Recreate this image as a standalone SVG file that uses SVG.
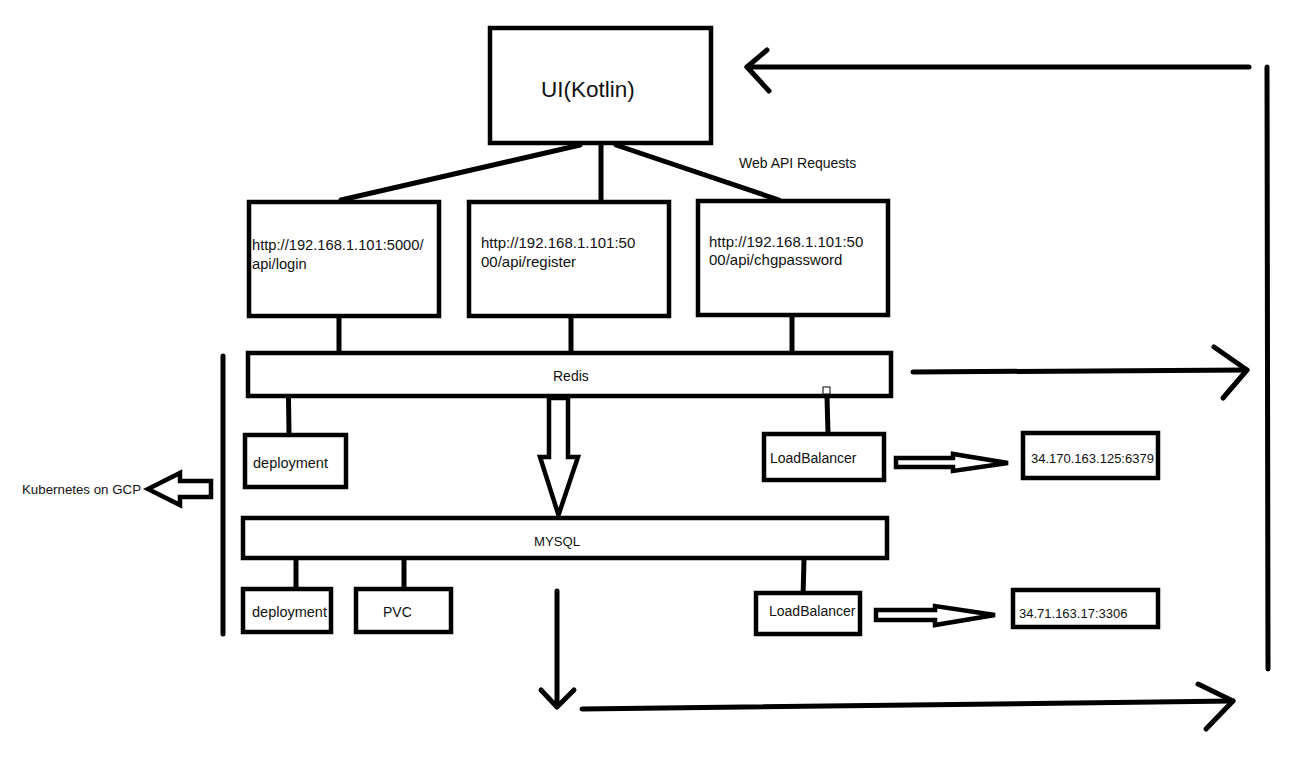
<svg xmlns="http://www.w3.org/2000/svg" width="1303" height="758" viewBox="0 0 1303 758">
<style>
.box{fill:#fff;stroke:#000;stroke-width:4.5}
.ln{stroke:#000;stroke-width:5;stroke-linecap:round;stroke-linejoin:round;fill:none}
.ha{fill:#fff;stroke:#000;stroke-width:4.5;stroke-linejoin:miter}
.t{font-family:"Liberation Sans",Arial,sans-serif;fill:#111}
</style>
<rect width="1303" height="758" fill="#fff"/>
<g id="connectors">
<line class="ln" x1="580" y1="145" x2="341" y2="200"/>
<line class="ln" x1="601" y1="145" x2="601" y2="203"/>
<line class="ln" x1="616" y1="145" x2="779" y2="200"/>
<line class="ln" x1="339" y1="318" x2="339" y2="352"/>
<line class="ln" x1="571" y1="318" x2="571" y2="355"/>
<line class="ln" x1="792" y1="317" x2="792" y2="352"/>
<line class="ln" x1="288.5" y1="398" x2="289" y2="433"/>
<line class="ln" x1="827" y1="397" x2="828" y2="433"/>
<line class="ln" x1="296" y1="560" x2="296" y2="589"/>
<line class="ln" x1="404" y1="560" x2="404" y2="589"/>
<line class="ln" x1="804" y1="560" x2="803" y2="597"/>
<polygon class="ha" points="549,398 568,398 568,457 578,457 558.5,515 540,457 549,457"/>
<polygon class="ha" points="148,489 180,473 180,481 211,481 211,497 180,497 180,505"/>
<polygon class="ha" points="896,458 953,458 953,454 1008,463 953,471 953,467 896,467"/>
<polygon class="ha" points="876,610 935,610 935,606 995,615 935,625 935,620 876,620"/>
<line class="ln" x1="223" y1="356" x2="223" y2="634"/>
<line class="ln" x1="1249" y1="67" x2="747" y2="67"/>
<polyline class="ln" points="767,50 747,67 769,91"/>
<line class="ln" x1="1267" y1="67" x2="1268" y2="669"/>
<line class="ln" x1="913" y1="372" x2="1247" y2="370"/>
<polyline class="ln" points="1214,347 1247,370 1223,398"/>
<line class="ln" x1="557" y1="591" x2="557" y2="706"/>
<polyline class="ln" points="541,690 557,707 574,690"/>
<line class="ln" x1="582" y1="709" x2="1233" y2="701"/>
<polyline class="ln" points="1198,684 1233,701 1206,729"/>
</g>
<g id="ui">
<rect class="box" x="490" y="28" width="221" height="115"/>
<text class="t" x="541" y="97" font-size="22.5">UI(Kotlin)</text>
</g>
<g id="label-web">
<text class="t" x="739" y="168" font-size="14">Web API Requests</text>
</g>
<g id="login">
<rect class="box" x="249" y="202" width="190" height="114"/>
<text class="t" x="252" y="250" font-size="14.7">http://192.168.1.101:5000/</text>
<text class="t" x="252" y="269" font-size="14.7">api/login</text>
</g>
<g id="register">
<rect class="box" x="469" y="202" width="200" height="114"/>
<text class="t" x="481" y="248" font-size="15">http://192.168.1.101:50</text>
<text class="t" x="481" y="267" font-size="15">00/api/register</text>
</g>
<g id="chgpassword">
<rect class="box" x="698" y="201" width="190" height="114"/>
<text class="t" x="709" y="247" font-size="15">http://192.168.1.101:50</text>
<text class="t" x="709" y="265" font-size="15">00/api/chgpassword</text>
</g>
<g id="redis">
<rect class="box" x="248" y="353" width="643" height="43"/>
<text class="t" x="553" y="381" font-size="14">Redis</text>
<rect x="823" y="387" width="7" height="7" fill="#fff" stroke="#000" stroke-width="1"/>
</g>
<g id="redis-deployment">
<rect class="box" x="245" y="435" width="101" height="52"/>
<text class="t" x="253" y="468" font-size="14.5">deployment</text>
</g>
<g id="redis-lb">
<rect class="box" x="764" y="434" width="120" height="46"/>
<text class="t" x="770" y="463" font-size="14">LoadBalancer</text>
</g>
<g id="redis-ip">
<rect class="box" x="1023" y="433" width="135" height="45"/>
<text class="t" x="1031" y="463" font-size="13">34.170.163.125:6379</text>
</g>
<g id="kubernetes">
<text class="t" x="22" y="494" font-size="13.3">Kubernetes on GCP</text>
</g>
<g id="mysql">
<rect class="box" x="243" y="518" width="644" height="40"/>
<text class="t" x="534" y="546" font-size="13.2">MYSQL</text>
</g>
<g id="mysql-deployment">
<rect class="box" x="243" y="589" width="88" height="43"/>
<text class="t" x="252" y="617" font-size="14.5">deployment</text>
</g>
<g id="pvc">
<rect class="box" x="356" y="589" width="95" height="43"/>
<text class="t" x="383" y="617" font-size="14">PVC</text>
</g>
<g id="mysql-lb">
<rect class="box" x="756" y="593" width="104" height="41"/>
<text class="t" x="769" y="616" font-size="14">LoadBalancer</text>
</g>
<g id="mysql-ip">
<rect class="box" x="1013" y="590" width="145" height="37"/>
<text class="t" x="1019" y="618" font-size="13">34.71.163.17:3306</text>
</g>
</svg>
